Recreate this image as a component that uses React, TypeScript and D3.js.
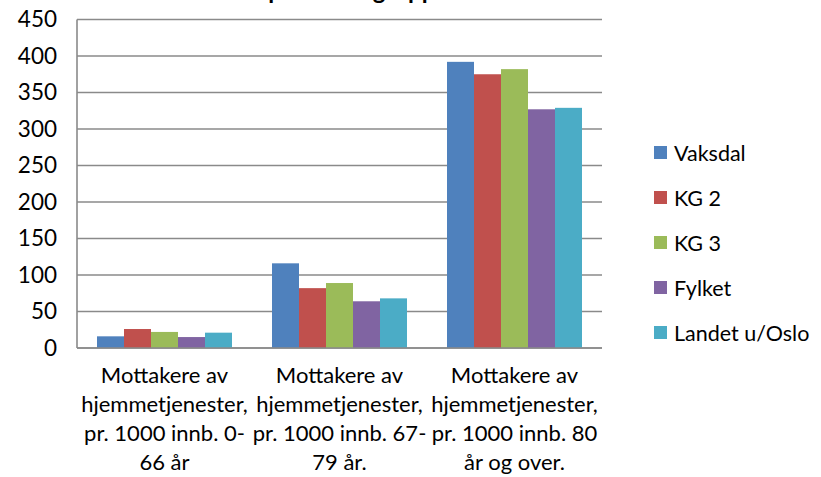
import React from "react";
import * as d3 from "d3";

const categories: string[][] = [
  ["Mottakere av", "hjemmetjenester,", "pr. 1000 innb. 0-", "66 år"],
  ["Mottakere av", "hjemmetjenester,", "pr. 1000 innb. 67-", "79 år."],
  ["Mottakere av", "hjemmetjenester,", "pr. 1000 innb. 80", "år og over."],
];
const seriesNames = ["Vaksdal", "KG 2", "KG 3", "Fylket", "Landet u/Oslo"];
const colors = ["#4F81BD", "#C0504D", "#9BBB59", "#8064A2", "#4BACC6"];
const vaksdal = [16, 116, 392];
const kg2 = [26, 82, 375];
const kg3 = [22, 89, 382];
const fylket = [15, 64, 327];
const landet = [21, 68, 329];
const seriesValues = [vaksdal, kg2, kg3, fylket, landet];
const yTicks = [0, 50, 100, 150, 200, 250, 300, 350, 400, 450];
const title = "Mottakere per aldersgruppe";

const W = 821;
const H = 477;
const plotLeft = 77;
const plotRight = 602;
const plotTop = 19.5;
const plotBottom = 348;
const font = "Lato, 'Open Sans', sans-serif";

export default function App() {
  const x0 = d3
    .scaleBand<number>()
    .domain(d3.range(categories.length))
    .range([plotLeft, plotRight])
    .paddingInner(0)
    .paddingOuter(0);
  const x1 = d3
    .scaleBand<number>()
    .domain(d3.range(seriesNames.length))
    .range([0, x0.bandwidth()])
    .paddingOuter(20 / 27)
    .paddingInner(0);
  const y = d3.scaleLinear().domain([0, 450]).range([plotBottom, plotTop]);

  return (
    <svg width={W} height={H} style={{ position: "absolute", left: 0, top: 0, background: "#fff" }} fontFamily={font}>
      <rect x={0} y={0} width={W} height={H} fill="#fff" />
      <text x={151} y={-1} fontSize={24} fontWeight="bold" fill="#000">
        {title}
      </text>
      {yTicks.map((t) => (
        <g key={t}>
          <line x1={plotLeft} x2={plotRight} y1={y(t)} y2={y(t)} stroke="#8a8a8a" strokeWidth={1.6} />
          <text x={57} y={y(t)} dy="0.35em" textAnchor="end" fontSize={22.5} fill="#000">
            {t}
          </text>
        </g>
      ))}
      <line x1={plotLeft} x2={plotLeft} y1={plotTop} y2={plotBottom} stroke="#8a8a8a" strokeWidth={1.6} />
      {categories.map((_, ci) =>
        seriesValues.map((vals, si) => (
          <rect
            key={`${ci}-${si}`}
            x={(x0(ci) as number) + (x1(si) as number)}
            y={y(vals[ci])}
            width={x1.bandwidth()}
            height={plotBottom - y(vals[ci])}
            fill={colors[si]}
          />
        ))
      )}
      <line x1={plotLeft} x2={plotRight} y1={plotBottom} y2={plotBottom} stroke="#8a8a8a" strokeWidth={1.6} />
      {categories.map((lines, ci) => (
        <text key={ci} textAnchor="middle" fontSize={22} fill="#000">
          {lines.map((l, li) => (
            <tspan key={li} x={(x0(ci) as number) + x0.bandwidth() / 2} y={383 + li * 29}>
              {l}
            </tspan>
          ))}
        </text>
      ))}
      {seriesNames.map((n, i) => (
        <g key={n} transform={`translate(654, ${153 + i * 45})`}>
          <rect x={0} y={-7} width={13} height={13} fill={colors[i]} />
          <text x={20} y={0} dy="0.35em" fontSize={21.5} fill="#000">
            {n}
          </text>
        </g>
      ))}
    </svg>
  );
}
